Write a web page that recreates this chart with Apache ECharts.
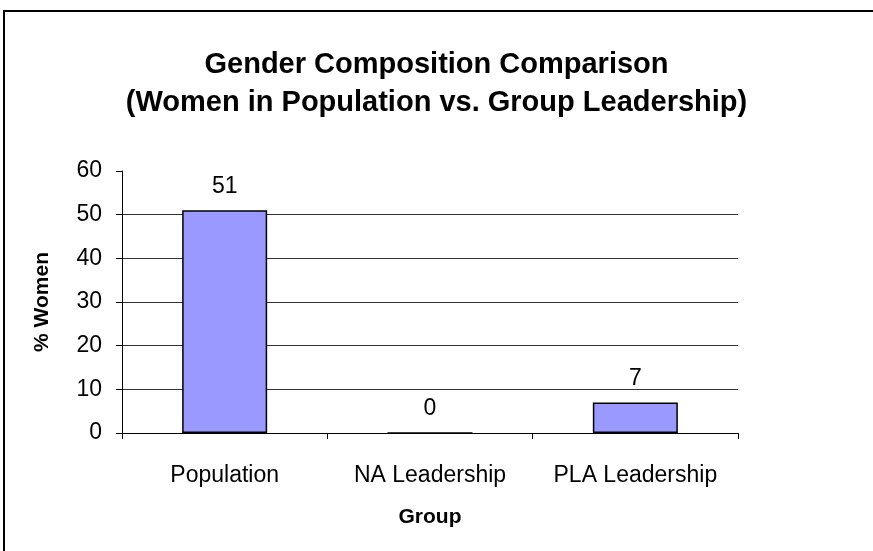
<!DOCTYPE html>
<html><head><meta charset="utf-8">
<script src="https://cdn.jsdelivr.net/npm/echarts@6/dist/echarts.min.js"></script>
<style>html,body{margin:0;padding:0;background:#fff}#c{width:873px;height:551px}</style>
</head><body><div id="c"></div>
<script>
var categories = ["Population", "NA Leadership", "PLA Leadership"];
var womenPct = [51, 0, 7];
var titleLines = ["Gender Composition Comparison", "(Women in Population vs. Group Leadership)"];
var chart = echarts.init(document.getElementById('c'));
var F = '"Liberation Sans", Arial, sans-serif';
chart.setOption({
  animation: false,
  backgroundColor: '#fff',
  graphic: [{type:'rect', shape:{x:4, y:11, width:900, height:600}, style:{fill:'none', stroke:'#000', lineWidth:2}}],
  title: {
    text: titleLines.join('\n'), left: 'center', top: 41,
    textStyle: {fontFamily: F, fontSize: 29, fontWeight: 'bold', color: '#000', lineHeight: 38}
  },
  grid: {left: 122, right: 135, top: 171, bottom: 118},
  xAxis: {
    type: 'category', data: categories,
    name: 'Group', nameLocation: 'middle', nameGap: 74,
    nameTextStyle: {fontFamily: F, fontSize: 21, fontWeight: 'bold', color: '#000'},
    axisLine: {lineStyle: {color: '#000', width: 1}},
    axisTick: {show: true, length: 6, lineStyle: {color: '#000'}},
    axisLabel: {fontFamily: F, fontSize: 23, color: '#000', margin: 31, interval: 0, hideOverlap: false}
  },
  yAxis: {
    type: 'value', min: 0, max: 60, interval: 10,
    name: '% Women', nameLocation: 'middle', nameGap: 69, nameRotate: 90,
    nameTextStyle: {fontFamily: F, fontSize: 21, fontWeight: 'bold', color: '#000'},
    axisLine: {show: true, lineStyle: {color: '#000', width: 1}},
    axisTick: {show: true, length: 6, inside: false, lineStyle: {color: '#000'}},
    axisLabel: {fontFamily: F, fontSize: 23, color: '#000', margin: 20},
    splitLine: {show: true, lineStyle: {color: '#333', width: 1}, showMaxLine: false}
  },
  series: [{
    type: 'bar', data: womenPct, barWidth: 85,
    itemStyle: {color: '#9999FF', borderColor: '#000', borderWidth: 1.5},
    label: {show: true, position: 'top', distance: 12, fontFamily: F, fontSize: 23, color: '#000'}
  }]
});
</script></body></html>
